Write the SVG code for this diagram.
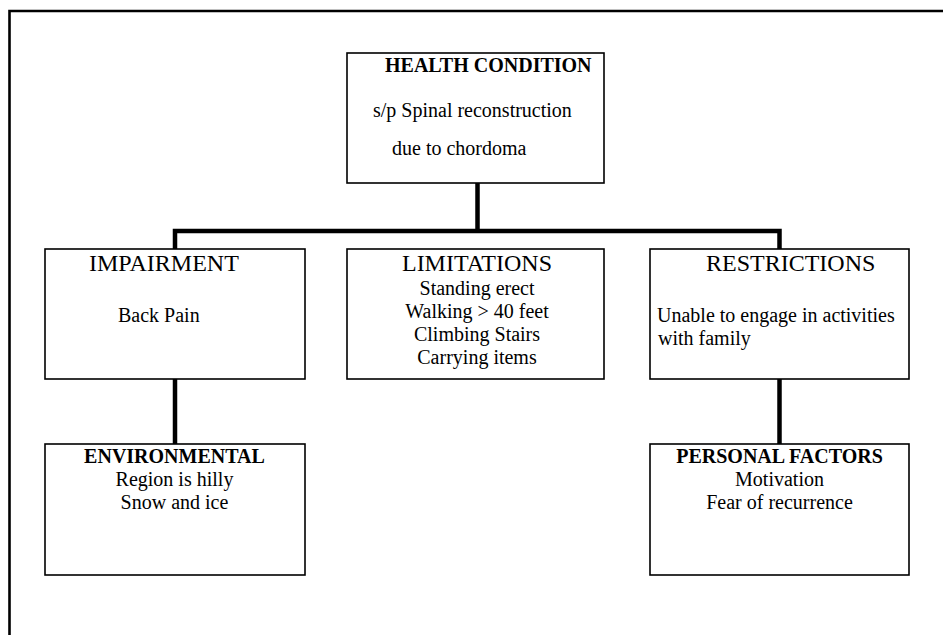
<svg xmlns="http://www.w3.org/2000/svg" width="943" height="635" viewBox="0 0 943 635">
<style>
.box{fill:#fff;stroke:#000;stroke-width:1.6}
.conn{fill:none;stroke:#000;stroke-width:4.5}
.frame{fill:none;stroke:#000;stroke-width:2.6}
text{font-family:"Liberation Serif","Times New Roman",serif;fill:#000}
.t{font-size:20px}
.h{font-size:24px}
.b{font-size:20px;font-weight:bold}
.c{text-anchor:middle}
</style>
<rect width="943" height="635" fill="#fff"/>
<path class="frame" d="M9.5,635 V11 H943"/>
<g id="connectors">
<path class="conn" d="M477.5,183 V231 M175,249 V231 H779.5 V249"/>
<path class="conn" d="M175,379 V444"/>
<path class="conn" d="M779.5,379 V444"/>
</g>
<g id="health">
<rect class="box" x="347" y="53" width="257" height="130"/>
<text class="b" x="385" y="72">HEALTH CONDITION</text>
<text class="t" x="373" y="117">s/p Spinal reconstruction</text>
<text class="t" x="392" y="155">due to chordoma</text>
</g>
<g id="impairment">
<rect class="box" x="45" y="249" width="260" height="130"/>
<text class="h" x="89" y="271">IMPAIRMENT</text>
<text class="t" x="118" y="322">Back Pain</text>
</g>
<g id="limitations">
<rect class="box" x="347" y="249" width="257" height="130"/>
<text class="h c" x="477" y="271">LIMITATIONS</text>
<text class="t c" x="477" y="295">Standing erect</text>
<text class="t c" x="477" y="318">Walking &gt; 40 feet</text>
<text class="t c" x="477" y="341">Climbing Stairs</text>
<text class="t c" x="477" y="364">Carrying items</text>
</g>
<g id="restrictions">
<rect class="box" x="650" y="249" width="259" height="130"/>
<text class="h" x="706" y="271">RESTRICTIONS</text>
<text class="t" x="657" y="322">Unable to engage in activities</text>
<text class="t" x="658" y="345">with family</text>
</g>
<g id="environmental">
<rect class="box" x="45" y="444" width="260" height="131"/>
<text class="b c" x="174.5" y="463">ENVIRONMENTAL</text>
<text class="t c" x="174.5" y="486">Region is hilly</text>
<text class="t c" x="174.5" y="509">Snow and ice</text>
</g>
<g id="personal">
<rect class="box" x="650" y="444" width="259" height="131"/>
<text class="b c" x="779.5" y="463">PERSONAL FACTORS</text>
<text class="t c" x="779.5" y="486">Motivation</text>
<text class="t c" x="779.5" y="509">Fear of recurrence</text>
</g>
</svg>
